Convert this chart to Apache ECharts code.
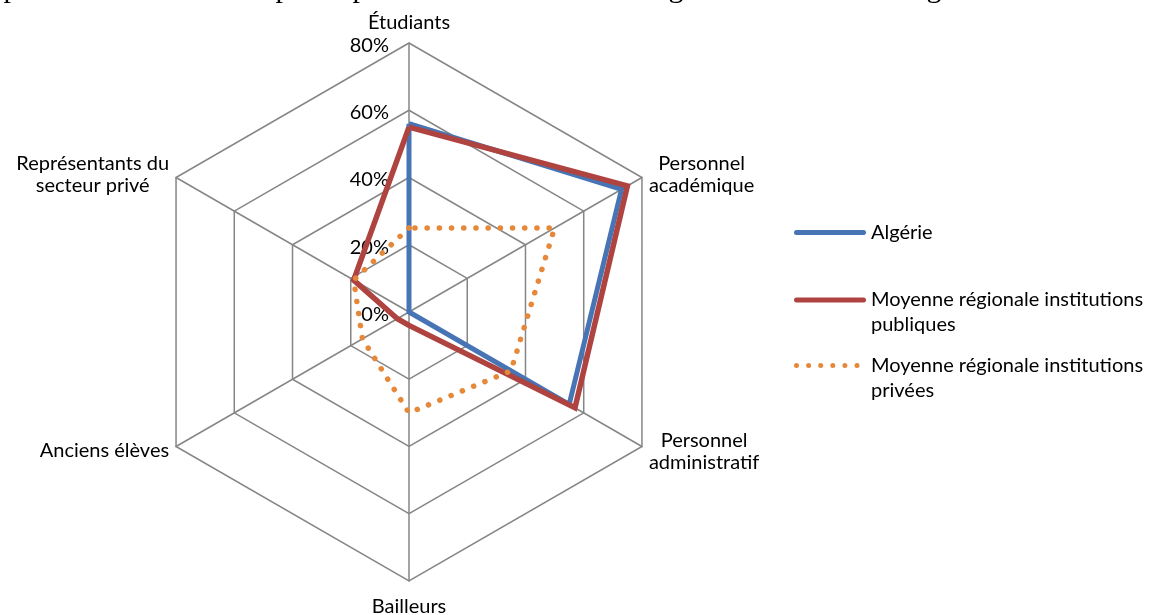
<!DOCTYPE html>
<html>
<head>
<meta charset="utf-8">
<script src="https://cdn.jsdelivr.net/npm/echarts@6/dist/echarts.min.js"></script>
<style>
  html, body { margin: 0; padding: 0; background: #ffffff; }
  #chart { width: 1151px; height: 615px; }
</style>
</head>
<body>
<div id="chart"></div>
<script>
// Stakeholder axes, listed clockwise from the top
const indicators = [
  'Étudiants',
  'Personnel\nacadémique',
  'Personnel\nadministratif',
  'Bailleurs',
  'Anciens élèves',
  'Représentants du\nsecteur privé'
];
const seriesNames = [
  'Algérie',
  'Moyenne régionale institutions\npubliques',
  'Moyenne régionale institutions\nprivées'
];
// Shares in %, same order as the indicators
const algerie = [56, 73, 55, 0, 0, 0];
const moyennePubliques = [55, 75, 57, 4, 4, 19];
const moyennePrivees = [25, 50, 35, 30, 16, 19];
const tickLabels = ['0%', '20%', '40%', '60%', '80%'];
const axisMax = 80;
const tickStep = 20;
// Bottom edge of the text line printed above the figure
const clippedGlyphs = ['p', 'p', 'p', 'g', 'g'];
const clippedGlyphX = [11, 283, 360, 676, 934];

const FONT = 'Lato';
const FONT_SIZE = 20;
const LINE_H = 25;
const GRID = '#868686';
const BLUE = '#4674B4';
const RED = '#AF4340';
const ORANGE = '#E5883A';

// ECharts lays radar indicators out counter-clockwise; reverse to read clockwise
const order = [0, 5, 4, 3, 2, 1];
const reorder = arr => order.map(i => arr[i]);
const radarIndicators = order.map(i => ({ name: indicators[i], min: 0, max: axisMax }));

const center = [409, 312];
const radius = 269;

// legend icons: a solid rounded bar and a row of round dots (72 x 5 box)
const barIcon = 'path://M2.5,0L69.5,0A2.5,2.5,0,0,1,69.5,5L2.5,5A2.5,2.5,0,0,1,2.5,0Z';
function dotsIcon() {
  let p = 'path://M0,0M72,5';
  for (let k = 0; k < 6; k++) {
    const cx = 2.5 + k * 12.1;
    p += 'M' + (cx - 2.5) + ',2.5A2.5,2.5,0,1,0,' + (cx + 2.5) + ',2.5A2.5,2.5,0,1,0,' + (cx - 2.5) + ',2.5Z';
  }
  return p;
}

// one legend per entry so the swatch lines up with the first text line
function makeLegend(name, icon, top, twoLines) {
  return {
    orient: 'vertical',
    left: 794,
    top: top,
    padding: 0,
    itemWidth: 72,
    itemHeight: 5,
    itemGap: 0,
    selectedMode: false,
    data: [{ name: name, icon: icon }],
    formatter: twoLines ? '\n{name}' : '{name}',
    textStyle: {
      color: '#000',
      fontFamily: FONT,
      fontSize: FONT_SIZE,
      lineHeight: LINE_H
    }
  };
}

// axis name: each line centred; two-line names sit a little lower
function axisNameText(name) {
  const lines = name.split('\n');
  if (name === 'Bailleurs') return '{b|' + name + '}';
  if (lines.length > 1) {
    return lines.map((s, k) => '{' + (k === 0 ? 'd' : 'c') + '|' + s + '}').join('\n');
  }
  return '{c|' + name + '}';
}
const nameBase = { align: 'center', fontFamily: FONT, fontSize: FONT_SIZE, lineHeight: LINE_H, color: '#000' };

const chart = echarts.init(document.getElementById('chart'), null, { renderer: 'canvas' });

chart.setOption({
  backgroundColor: '#ffffff',
  animation: false,
  radar: {
    center: center,
    radius: radius,
    startAngle: 90,
    shape: 'polygon',
    splitNumber: axisMax / tickStep,
    indicator: radarIndicators,
    axisNameGap: 8,
    axisName: {
      color: '#000',
      fontFamily: FONT,
      fontSize: FONT_SIZE,
      formatter: axisNameText,
      rich: {
        c: nameBase,
        d: Object.assign({}, nameBase, { padding: [6, 0, 0, 0] }),
        b: Object.assign({}, nameBase, { padding: [10, 0, 0, 0] })
      }
    },
    axisLine: { lineStyle: { color: GRID, width: 1.5 } },
    splitLine: { lineStyle: { color: GRID, width: 1.5 } },
    splitArea: { show: false },
    axisTick: { show: false },
    axisLabel: { show: false }
  },
  // polar overlay that carries the percentage scale on the upward axis
  polar: { center: center, radius: radius },
  angleAxis: { show: false, startAngle: 90, min: 0, max: 360 },
  radiusAxis: {
    min: 0,
    max: axisMax,
    interval: tickStep,
    axisLine: { show: false },
    axisTick: { show: false },
    splitLine: { show: false },
    axisLabel: {
      margin: 20,
      color: '#000',
      fontFamily: FONT,
      fontSize: FONT_SIZE,
      formatter: function (v, i) { return '{t|' + tickLabels[i] + '}'; },
      rich: {
        t: { fontFamily: FONT, fontSize: FONT_SIZE, color: '#000', padding: [5, 0, 0, 0] }
      }
    }
  },
  legend: [
    makeLegend(seriesNames[0], barIcon, 220, false),
    makeLegend(seriesNames[1], barIcon, 262.5, true),
    makeLegend(seriesNames[2], dotsIcon(), 328, true)
  ],
  graphic: clippedGlyphs.map((ch, k) => ({
    type: 'text',
    x: clippedGlyphX[k],
    y: 4,
    silent: true,
    style: {
      text: ch,
      fill: '#000',
      fontFamily: 'Liberation Serif',
      fontSize: 30,
      align: 'center',
      verticalAlign: 'bottom'
    }
  })),
  series: [
    {
      type: 'radar', name: seriesNames[0], symbol: 'none', z: 2,
      lineStyle: { color: BLUE, width: 5, join: 'miter' },
      itemStyle: { color: BLUE },
      data: [{ name: seriesNames[0], value: reorder(algerie) }]
    },
    {
      type: 'radar', name: seriesNames[1], symbol: 'none', z: 3,
      lineStyle: { color: RED, width: 5.5, join: 'miter' },
      itemStyle: { color: RED },
      data: [{ name: seriesNames[1], value: reorder(moyennePubliques) }]
    },
    {
      type: 'radar', name: seriesNames[2], symbol: 'none', z: 4,
      lineStyle: { color: ORANGE, width: 5.5, type: [0.1, 12.1], cap: 'round' },
      itemStyle: { color: ORANGE },
      data: [{ name: seriesNames[2], value: reorder(moyennePrivees) }]
    }
  ]
});
</script>
</body>
</html>
